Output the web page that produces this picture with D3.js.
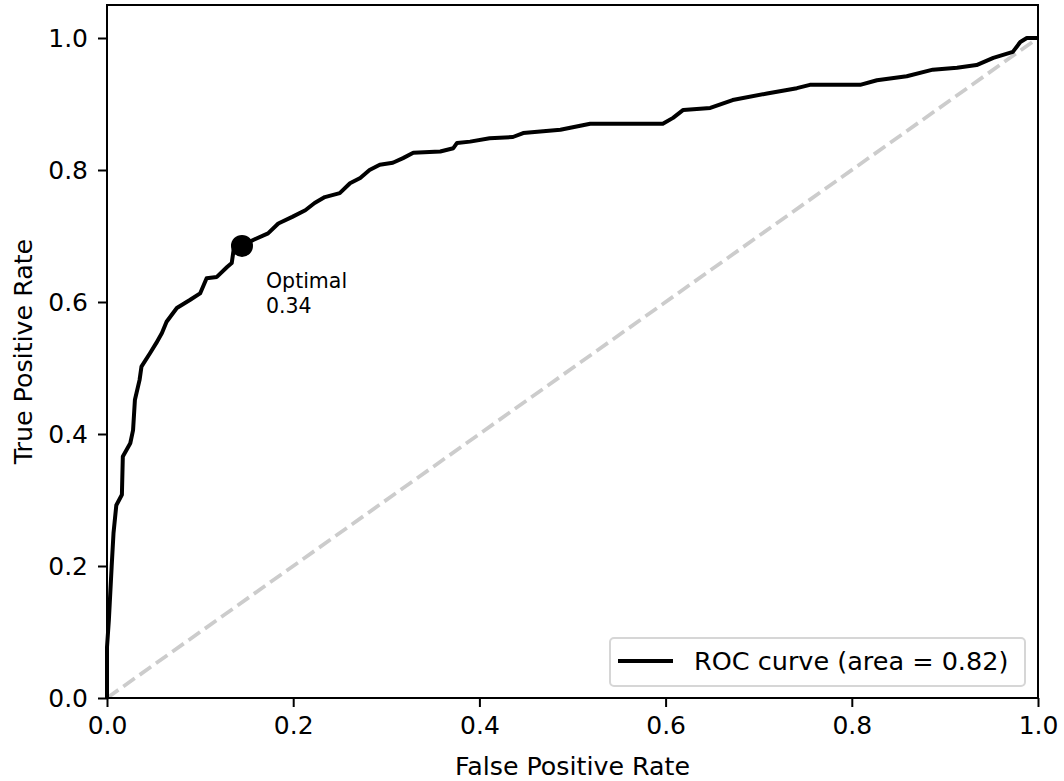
<!DOCTYPE html>
<html>
<head>
<meta charset="utf-8">
<script src="https://cdn.jsdelivr.net/npm/d3@7"></script>
<style>
  body { margin: 0; background: #fff; }
  svg { display: block; font-family: "DejaVu Sans", sans-serif; }
</style>
</head>
<body>
<svg id="chart" width="1064" height="781"></svg>
<script>
// ROC curve data
const fpr = [0.000, 0.000, 0.002, 0.005, 0.007, 0.010, 0.016, 0.017, 0.025, 0.028,
             0.030, 0.035, 0.037, 0.046, 0.053, 0.059, 0.064, 0.075, 0.089, 0.100,
             0.107, 0.118, 0.129, 0.134, 0.136, 0.145, 0.157, 0.173, 0.184, 0.199,
             0.213, 0.223, 0.234, 0.250, 0.261, 0.272, 0.282, 0.293, 0.307, 0.318,
             0.329, 0.358, 0.372, 0.376, 0.390, 0.411, 0.436, 0.447, 0.487, 0.519,
             0.597, 0.608, 0.619, 0.648, 0.672, 0.709, 0.741, 0.755, 0.809, 0.827,
             0.859, 0.887, 0.913, 0.934, 0.952, 0.973, 0.981, 0.988, 1.000];
const tpr = [0.000, 0.077, 0.118, 0.199, 0.250, 0.292, 0.308, 0.366, 0.386, 0.406,
             0.452, 0.482, 0.502, 0.522, 0.538, 0.553, 0.570, 0.591, 0.603, 0.613,
             0.636, 0.638, 0.653, 0.659, 0.679, 0.685, 0.694, 0.704, 0.719, 0.729,
             0.739, 0.750, 0.759, 0.765, 0.780, 0.788, 0.800, 0.808, 0.811, 0.818,
             0.826, 0.828, 0.833, 0.841, 0.843, 0.848, 0.850, 0.856, 0.861, 0.870,
             0.870, 0.879, 0.891, 0.894, 0.906, 0.916, 0.924, 0.929, 0.929, 0.936,
             0.942, 0.952, 0.955, 0.959, 0.970, 0.979, 0.994, 1.000, 1.000];
const chanceX = [0, 1];
const chanceY = [0, 1];
const optimalPoint = [0.145, 0.685];
const optimalLabel = ["Optimal", "0.34"];
const legendLabel = "ROC curve (area = 0.82)";
const xTicks = [0.0, 0.2, 0.4, 0.6, 0.8, 1.0];
const yTicks = [0.0, 0.2, 0.4, 0.6, 0.8, 1.0];
const xLabel = "False Positive Rate";
const yLabel = "True Positive Rate";

const margin = { left: 107, right: 1064 - 1038, top: 5, bottom: 781 - 698 };
const width = 1064, height = 781;
const svg = d3.select("#chart");

const x = d3.scaleLinear().domain([0, 1]).range([margin.left, width - margin.right]);
const y = d3.scaleLinear().domain([0, 1.05]).range([height - margin.bottom, margin.top]);

// diagonal chance line
svg.append("line")
  .attr("x1", x(chanceX[0])).attr("y1", y(chanceY[0]))
  .attr("x2", x(chanceX[1])).attr("y2", y(chanceY[1]))
  .attr("stroke", "#cccccc").attr("stroke-width", 3.75)
  .attr("stroke-dasharray", "14,6");

// ROC curve
const pts = fpr.map((f, i) => [f, tpr[i]]);
svg.append("path")
  .datum(pts)
  .attr("fill", "none")
  .attr("stroke", "#000")
  .attr("stroke-width", 4)
  .attr("stroke-linejoin", "round")
  .attr("d", d3.line().x(d => x(d[0])).y(d => y(d[1])));

// optimal point
svg.append("circle")
  .attr("cx", x(optimalPoint[0])).attr("cy", y(optimalPoint[1]))
  .attr("r", 11).attr("fill", "#000");

svg.append("g")
  .selectAll("text").data(optimalLabel).join("text")
  .attr("x", x(optimalPoint[0]) + 24)
  .attr("y", (d, i) => y(optimalPoint[1]) + 42 + i * 25)
  .attr("font-size", 20.5)
  .attr("fill", "#000")
  .text(d => d);

// axes
const xAxis = svg.append("g")
  .attr("transform", `translate(0,${height - margin.bottom})`)
  .call(d3.axisBottom(x).tickValues(xTicks).tickFormat(d3.format(".1f")).tickSize(9).tickPadding(9));
const yAxis = svg.append("g")
  .attr("transform", `translate(${margin.left},0)`)
  .call(d3.axisLeft(y).tickValues(yTicks).tickFormat(d3.format(".1f")).tickSize(9).tickPadding(10));
[xAxis, yAxis].forEach(g => {
  g.select(".domain").remove();
  g.selectAll(".tick line").attr("stroke", "#000").attr("stroke-width", 2);
  g.selectAll(".tick text").attr("font-size", 25).attr("fill", "#000")
    .attr("font-family", "DejaVu Sans, sans-serif");
});

// frame (spines)
svg.append("rect")
  .attr("x", margin.left).attr("y", margin.top)
  .attr("width", width - margin.right - margin.left)
  .attr("height", height - margin.bottom - margin.top)
  .attr("fill", "none").attr("stroke", "#000").attr("stroke-width", 2);

// axis labels
svg.append("text")
  .attr("x", (margin.left + width - margin.right) / 2)
  .attr("y", 775)
  .attr("text-anchor", "middle")
  .attr("font-size", 25.3)
  .text(xLabel);
svg.append("text")
  .attr("transform", `translate(32,${(margin.top + height - margin.bottom) / 2}) rotate(-90)`)
  .attr("text-anchor", "middle")
  .attr("font-size", 25.3)
  .text(yLabel);

// legend
const lg = svg.append("g");
lg.append("rect")
  .attr("x", 610).attr("y", 638).attr("width", 415).attr("height", 48)
  .attr("rx", 4).attr("fill", "#fff").attr("fill-opacity", 0.8)
  .attr("stroke", "#d6d6d6").attr("stroke-width", 2);
lg.append("line")
  .attr("x1", 618).attr("x2", 673).attr("y1", 661).attr("y2", 661)
  .attr("stroke", "#000").attr("stroke-width", 4);
lg.append("text")
  .attr("x", 694).attr("y", 670)
  .attr("font-size", 25.5)
  .text(legendLabel);
</script>
</body>
</html>
